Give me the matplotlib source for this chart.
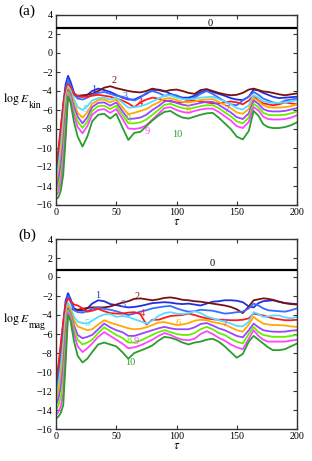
import matplotlib
matplotlib.use("Agg")
import matplotlib.pyplot as plt

tau = [0, 2, 4, 6, 8, 10, 12, 15, 18, 22, 26, 30, 35, 40, 45, 50, 55, 60, 65, 70, 75, 80,
       85, 90, 95, 100, 105, 110, 115, 120, 125, 130, 135, 140, 145, 150, 155, 160,
       164, 168, 172, 176, 180, 185, 190, 195, 200]

kin0 = 2.65
mag0 = 0.72

kin1 = [-12.3,-10.5,-8.0,-5.4,-3.3,-2.4,-3.0,
        -4.2,-4.6,-4.6,-4.4,-4.0,
        -3.75,-3.9,-4.1,-4.4,-4.7,-4.9,-4.9,-4.6,-4.3,-3.9,
        -3.85,-4.0,-4.3,-4.5,-4.7,-4.7,-4.5,-4.1,-3.95,-4.1,
        -4.3,-4.5,-4.75,-4.9,-4.95,-4.6,
        -3.85,-3.95,-4.2,-4.4,-4.6,
        -4.75,-4.7,-4.65,-4.6]
kin2 = [-12.5,-10.8,-8.5,-6.2,-4.3,-3.6,-3.9,
        -4.4,-4.5,-4.45,-4.4,-4.3,
        -4.0,-3.65,-3.5,-3.7,-3.85,-4.0,-4.1,-4.15,-4.0,-3.75,
        -3.9,-4.05,-3.9,-3.85,-4.0,-4.2,-4.3,-3.9,-3.8,-4.0,
        -4.2,-4.35,-4.45,-4.4,-4.2,-3.85,
        -3.75,-3.9,-4.05,-4.1,-4.2,
        -4.35,-4.45,-4.35,-4.25]
kin3 = [-12.8,-11.0,-8.6,-6.0,-3.8,-2.8,-3.4,
        -4.4,-4.8,-4.9,-4.7,-4.4,
        -4.2,-4.1,-4.3,-4.5,-4.6,-4.8,-5.0,-4.7,-4.2,-4.0,
        -4.2,-4.5,-4.4,-4.45,-4.8,-4.9,-4.7,-4.3,-4.0,-4.3,
        -4.7,-5.1,-5.4,-5.5,-5.0,-4.6,
        -4.1,-4.4,-4.8,-5.0,-5.2,
        -5.3,-5.0,-4.9,-4.8]
kin4 = [-12.0,-10.2,-7.8,-5.5,-3.8,-3.25,-3.6,
        -4.3,-4.5,-4.6,-4.6,-4.5,
        -4.4,-4.5,-4.6,-4.8,-5.0,-5.3,-5.7,-5.2,-4.9,-4.7,
        -4.8,-5.0,-5.1,-5.2,-5.2,-5.0,-5.0,-5.1,-5.2,-5.3,
        -5.3,-5.2,-5.1,-5.2,-5.4,-5.0,
        -4.5,-5.0,-5.3,-5.4,-5.5,
        -5.4,-5.2,-5.3,-5.4]
kin5 = [-13.3,-12.0,-9.8,-7.2,-4.6,-3.5,-3.9,
        -4.9,-5.7,-6.0,-5.6,-5.0,
        -4.75,-4.7,-4.9,-4.7,-5.2,-5.75,-5.7,-5.6,-5.4,-5.1,
        -4.8,-4.5,-4.45,-4.7,-4.85,-4.9,-4.8,-4.7,-4.65,-4.6,
        -4.85,-5.1,-5.4,-5.8,-5.95,-5.5,
        -4.45,-4.7,-5.1,-5.2,-5.25,
        -5.25,-5.2,-5.1,-5.0]
kin6 = [-13.8,-12.8,-10.8,-8.3,-5.3,-3.7,-4.1,
        -5.3,-6.3,-6.8,-6.25,-5.35,
        -4.95,-4.9,-5.2,-4.9,-5.7,-6.45,-6.3,-6.1,-5.9,-5.5,
        -5.2,-4.8,-4.75,-4.95,-5.15,-5.2,-5.1,-4.95,-4.9,-4.85,
        -5.15,-5.45,-5.8,-6.25,-6.4,-5.9,
        -4.75,-5.05,-5.5,-5.7,-5.75,
        -5.75,-5.7,-5.6,-5.4]
kin7 = [-14.2,-13.4,-11.8,-9.5,-6.2,-3.9,-4.3,
        -5.7,-6.7,-7.4,-6.75,-5.7,
        -5.25,-5.2,-5.55,-5.2,-6.1,-6.95,-6.9,-6.8,-6.5,-6.0,
        -5.6,-5.1,-5.0,-5.25,-5.45,-5.55,-5.4,-5.25,-5.15,-5.15,
        -5.45,-5.85,-6.25,-6.75,-6.95,-6.35,
        -5.0,-5.35,-5.9,-6.1,-6.15,
        -6.15,-6.1,-5.95,-5.8]
kin8 = [-14.6,-14.0,-12.8,-10.8,-7.2,-4.1,-4.6,
        -6.2,-7.2,-7.9,-7.2,-6.1,
        -5.6,-5.55,-5.9,-5.55,-6.5,-7.4,-7.4,-7.3,-7.0,-6.5,
        -6.0,-5.45,-5.35,-5.6,-5.8,-5.9,-5.75,-5.6,-5.5,-5.5,
        -5.8,-6.25,-6.65,-7.2,-7.4,-6.8,
        -5.35,-5.7,-6.3,-6.5,-6.55,
        -6.55,-6.5,-6.35,-6.15]
kin9 = [-15.0,-14.6,-13.6,-11.6,-8.0,-4.4,-4.9,
        -6.6,-7.8,-8.45,-7.7,-6.5,
        -6.0,-5.9,-6.3,-5.9,-6.9,-7.95,-8.0,-7.9,-7.6,-7.0,
        -6.4,-5.8,-5.7,-6.0,-6.2,-6.3,-6.1,-5.95,-5.85,-5.85,
        -6.2,-6.65,-7.1,-7.7,-7.9,-7.25,
        -5.7,-6.05,-6.7,-6.95,-7.0,
        -7.0,-6.95,-6.8,-6.55]
kin10 = [-15.4,-15.2,-14.5,-12.8,-9.0,-4.6,-5.2,
         -7.3,-8.8,-9.85,-8.8,-7.2,
         -6.5,-6.4,-6.9,-6.4,-7.8,-9.15,-8.4,-8.3,-7.7,-7.1,
         -6.6,-6.2,-6.1,-6.5,-6.8,-6.9,-6.7,-6.5,-6.35,-6.3,
         -6.8,-7.4,-8.0,-8.8,-9.1,-8.2,
         -6.1,-6.6,-7.5,-7.8,-7.9,
         -7.9,-7.8,-7.6,-7.3]

mag1 = [-11.5,-9.8,-7.3,-4.8,-2.5,-1.7,-2.3,
        -3.3,-3.5,-3.55,-3.3,-2.8,
        -2.45,-2.55,-2.85,-2.95,-3.1,-3.2,-3.15,-3.05,-2.9,-2.75,
        -2.7,-2.65,-2.7,-2.8,-2.85,-2.8,-2.9,-3.0,-2.8,-2.6,
        -2.55,-2.45,-2.45,-2.5,-2.65,-3.1,
        -3.2,-2.75,-2.55,-2.5,-2.45,
        -2.6,-2.75,-2.8,-2.85]
mag2 = [-12.2,-10.5,-8.0,-5.6,-3.7,-3.1,-3.3,
        -3.45,-3.45,-3.35,-3.25,-3.2,
        -3.2,-3.2,-3.1,-2.9,-2.7,-2.55,-2.3,-2.25,-2.35,-2.45,
        -2.35,-2.2,-2.15,-2.25,-2.4,-2.45,-2.55,-2.6,-2.7,-2.8,
        -2.9,-3.0,-3.15,-3.4,-3.8,-3.1,
        -2.45,-2.35,-2.25,-2.3,-2.4,
        -2.6,-2.75,-2.85,-2.9]
mag3 = [-12.0,-10.3,-7.8,-5.2,-2.9,-2.0,-2.6,
        -3.5,-3.7,-3.75,-3.6,-3.35,
        -3.2,-3.35,-3.45,-3.6,-3.8,-4.0,-3.85,-3.65,-3.5,-3.3,
        -3.2,-3.1,-3.05,-3.3,-3.5,-3.65,-3.6,-3.45,-3.5,-3.55,
        -3.7,-3.85,-3.8,-3.7,-3.65,-3.3,
        -2.8,-3.0,-3.3,-3.5,-3.55,
        -3.6,-3.65,-3.5,-3.3]
mag4 = [-11.0,-9.3,-7.0,-4.8,-2.9,-2.25,-2.5,
        -2.9,-3.0,-3.3,-3.65,-3.55,
        -3.35,-3.6,-3.8,-3.85,-3.85,-3.75,-3.7,-3.9,-5.0,-4.5,
        -4.5,-4.3,-4.1,-4.05,-4.0,-3.85,-4.0,-4.2,-4.35,-4.45,
        -4.5,-4.5,-4.55,-4.55,-4.5,-4.35,
        -3.85,-3.95,-4.05,-4.2,-4.35,
        -4.45,-4.55,-4.55,-4.5]
mag5 = [-12.5,-11.3,-9.5,-7.0,-4.0,-2.7,-3.2,
        -4.2,-4.7,-4.85,-4.9,-4.6,
        -4.2,-3.95,-3.9,-4.2,-4.1,-4.2,-4.45,-4.65,-4.9,-4.6,
        -4.1,-3.8,-3.7,-3.85,-3.9,-3.8,-3.6,-3.8,-4.15,-4.35,
        -4.55,-4.7,-4.9,-5.15,-5.2,-4.7,
        -3.7,-3.9,-4.2,-4.15,-4.05,
        -4.05,-4.25,-4.35,-4.2]
mag6 = [-13.0,-12.0,-10.5,-8.2,-4.9,-3.0,-3.5,
        -4.6,-5.2,-5.4,-5.6,-5.5,
        -5.0,-4.55,-4.8,-5.0,-5.2,-5.4,-5.5,-5.45,-5.3,-5.05,
        -4.8,-4.75,-4.9,-5.05,-5.0,-4.85,-4.6,-4.5,-4.55,-4.75,
        -4.85,-5.0,-5.3,-5.6,-5.75,-5.0,
        -4.2,-4.6,-4.9,-5.0,-5.05,
        -5.07,-5.1,-5.2,-5.25]
mag7 = [-13.5,-12.8,-11.6,-9.4,-5.8,-3.3,-3.8,
        -5.1,-6.1,-6.45,-6.3,-6.1,
        -5.5,-4.9,-5.3,-5.6,-5.8,-6.2,-6.2,-6.0,-5.8,-5.6,
        -5.4,-5.25,-5.4,-5.5,-5.5,-5.5,-5.3,-4.95,-4.85,-5.1,
        -5.4,-5.6,-5.9,-6.2,-6.35,-5.6,
        -4.9,-5.3,-5.6,-5.7,-5.75,
        -5.77,-5.75,-5.65,-5.6]
mag8 = [-14.0,-13.5,-12.6,-10.8,-6.8,-3.5,-4.0,
        -5.5,-6.6,-7.1,-6.9,-6.6,
        -5.9,-5.3,-5.7,-6.1,-6.4,-6.9,-6.9,-6.7,-6.4,-6.1,
        -5.8,-5.6,-5.8,-6.0,-6.1,-6.1,-5.9,-5.5,-5.25,-5.5,
        -5.9,-6.1,-6.5,-6.8,-7.0,-6.0,
        -5.25,-5.8,-6.1,-6.2,-6.3,
        -6.3,-6.3,-6.2,-6.1]
mag9 = [-14.5,-14.2,-13.6,-12.2,-7.8,-3.7,-4.3,
        -6.0,-7.3,-7.9,-7.5,-7.0,
        -6.3,-5.8,-6.2,-6.6,-7.0,-7.5,-7.4,-7.2,-6.9,-6.6,
        -6.2,-5.9,-6.1,-6.4,-6.6,-6.65,-6.5,-6.0,-5.7,-6.0,
        -6.4,-6.7,-7.1,-7.4,-7.6,-6.5,
        -5.6,-6.2,-6.6,-6.8,-6.8,
        -6.8,-6.8,-6.7,-6.6]
mag10 = [-14.9,-14.7,-14.3,-13.5,-9.0,-4.0,-4.6,
         -6.8,-8.3,-9.0,-8.6,-7.9,
         -7.1,-6.9,-7.1,-7.3,-7.9,-8.6,-8.0,-7.75,-7.5,-7.2,
         -6.7,-6.3,-6.4,-6.6,-6.9,-7.1,-6.9,-6.8,-6.6,-6.5,
         -6.8,-7.3,-7.9,-8.5,-8.1,-6.8,
         -6.2,-6.6,-7.0,-7.4,-7.7,
         -7.7,-7.6,-7.3,-7.0]

mode_labels = ["1", "2", "3", "4", "5", "6", "7", "8", "9", "10"]
colors = ["#2030e0", "#7a1010", "#3a6cff", "#ff1a1a", "#55ddff",
          "#ffaa00", "#9a45ff", "#66ee00", "#ff44ff", "#2a9e2a"]

# label anchor positions (tau, value)
kin_lab_tau = [31, 48, 57, 70, 24, 110, 142, 60, 76, 101]
kin_lab_val = [-3.8, -2.85, -4.55, -5.25, -6.0, -6.0, -6.0, -7.05, -8.3, -8.6]
mag_lab_tau = [35, 67, 56, 72, 26, 101, 140, 61, 66.5, 61.5]
mag_lab_val = [-1.9, -2.1, -2.85, -3.8, -4.85, -4.85, -4.85, -6.65, -6.75, -9.05]
zero_lab_tau = [128, 130]
zero_lab_val = [3.15, 1.45]

plt.rcParams["font.family"] = ["Liberation Serif", "DejaVu Serif"]
plt.rcParams["mathtext.fontset"] = "stix"

W, H = 312, 461
fig = plt.figure(figsize=(W / 100, H / 100), dpi=100)

kin_series = [kin1, kin2, kin3, kin4, kin5, kin6, kin7, kin8, kin9, kin10]
mag_series = [mag1, mag2, mag3, mag4, mag5, mag6, mag7, mag8, mag9, mag10]

panels = [
    ("(a)", "kin", kin0, kin_series, kin_lab_tau, kin_lab_val, 15, 102, 0),
    ("(b)", "mag", mag0, mag_series, mag_lab_tau, mag_lab_val, 239, 322, 1),
]

for tag, sub, e0, series, ltau, lval, top_px, ylab_px, idx in panels:
    ax = fig.add_axes([56 / W, 1 - (top_px + 190) / H, 241 / W, 190 / H])
    ax.axhline(e0, color="black", lw=1.6, zorder=3)
    for s, c in zip(series, colors):
        ax.plot(tau, s, color=c, lw=1.3, solid_joinstyle="round")
    for lab, c, xt, yv in zip(mode_labels, colors, ltau, lval):
        ax.text(xt, yv, lab, color=c, fontsize=7.5, ha="center", va="center")
    ax.text(zero_lab_tau[idx], zero_lab_val[idx], "0", color="black",
            fontsize=7.5, ha="center", va="center")
    ax.set_xlim(0, 200)
    ax.set_ylim(-16, 4)
    ax.set_xticks([0, 50, 100, 150, 200])
    ax.set_yticks(list(range(-16, 5, 2)))
    ax.tick_params(direction="in", top=True, right=True, length=3, width=0.8,
                   labelsize=7.2, pad=2.5, colors="#333333", labelcolor="black")
    for sp in ax.spines.values():
        sp.set_linewidth(1.0)
        sp.set_color("#333333")
    ax.set_xlabel(r"$\tau$", fontsize=9, labelpad=-1)
    fig.text(18 / W, 1 - (top_px - 4) / H, tag, fontsize=11, ha="left", va="center")
    fig.text(3 / W, 1 - ylab_px / H, r"$\log\,E$", fontsize=8.5, ha="left", va="baseline")
    fig.text(29 / W, 1 - (ylab_px + 5.5) / H, sub, fontsize=7, ha="left", va="baseline")

fig.savefig("out.png", dpi=100)
